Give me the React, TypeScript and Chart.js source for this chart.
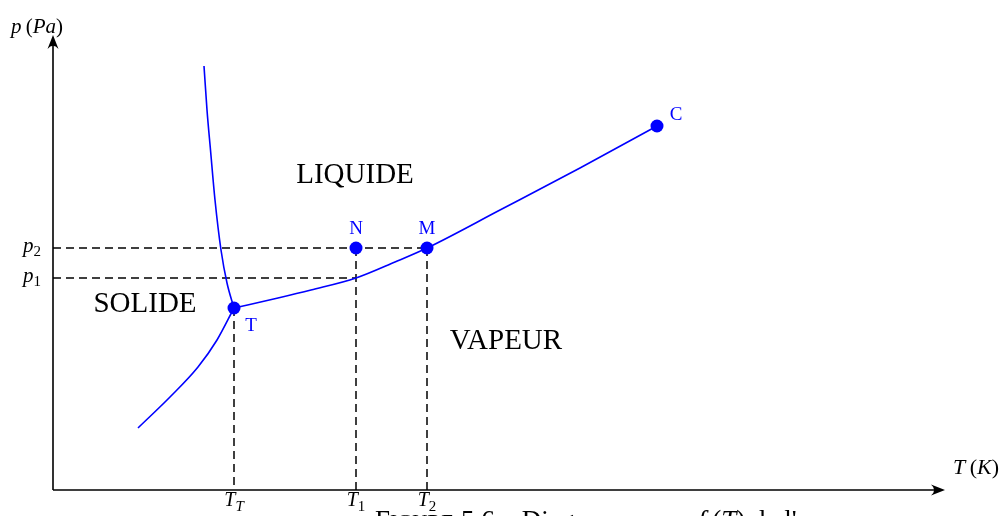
import React, { useEffect, useRef } from "react";
import { Chart, registerables } from "chart.js";

Chart.register(...registerables);

// Courbe de fusion (solide / liquide)
const FUSION_T = [15.1, 15.4, 15.75, 16.2, 16.8, 17.4, 18.1];
const FUSION_P = [42.4, 38.0, 34.0, 29.0, 24.0, 20.7, 18.2];

// Courbe de sublimation (solide / vapeur)
const SUBLIM_T = [8.5, 11.7, 14.5, 16.4, 18.1];
const SUBLIM_P = [6.2, 9.3, 12.3, 15.0, 18.2];

// Courbe de vaporisation (liquide / vapeur), de T à C
const VAPO_T = [18.1, 22.5, 25.8, 30.3, 34.2, 37.4, 44.7, 52.7, 60.4];
const VAPO_P = [18.2, 19.2, 20.0, 21.2, 22.8, 24.2, 28.0, 32.2, 36.4];

// Points remarquables
const POINT_NAMES = ["T", "N", "M", "C"];
const POINT_T = [18.1, 30.3, 37.4, 60.4];
const POINT_P = [18.2, 24.2, 24.2, 36.4];

// Graduations
const T_TICKS = [18.1, 30.3, 37.4];
const T_TICK_SUBS = ["T", "1", "2"];
const P_TICKS = [21.2, 24.2];
const P_TICK_SUBS = ["1", "2"];

const X_MAX = 89.2;
const Y_MAX = 45.5;

const REGIONS = ["LIQUIDE", "SOLIDE", "VAPEUR"];
const REGION_T = [30.2, 9.2, 45.3];
const REGION_P = [31.5, 18.6, 14.9];

const BLUE = "#0000ff";
const SERIF = "'Liberation Serif', 'DejaVu Serif', serif";

const zip = (xs: number[], ys: number[]) => xs.map((x, i) => ({ x, y: ys[i] }));

export default function App() {
  const ref = useRef<HTMLCanvasElement | null>(null);

  useEffect(() => {
    const canvas = ref.current;
    if (!canvas) return;

    const [TT, T1, T2] = T_TICKS;
    const [p1, p2] = P_TICKS;
    const pT = POINT_P[0];

    const dashed = (pts: { x: number; y: number }[]) => ({
      data: pts,
      showLine: true,
      borderColor: "#000",
      borderWidth: 1.5,
      borderDash: [8, 5],
      pointRadius: 0,
      order: 3,
      clip: false as any,
    });
    const curve = (pts: { x: number; y: number }[]) => ({
      data: pts,
      showLine: true,
      borderColor: BLUE,
      borderWidth: 1.6,
      cubicInterpolationMode: "monotone",
      pointRadius: 0,
      order: 2,
      clip: false as any,
    });

    const annot = {
      id: "annot",
      beforeDatasetsDraw(chart: any) {
        const { ctx, chartArea } = chart;
        const { left, right, top, bottom } = chartArea;
        ctx.save();
        ctx.strokeStyle = "#000";
        ctx.fillStyle = "#000";
        ctx.lineWidth = 1.6;
        ctx.beginPath();
        ctx.moveTo(left, bottom);
        ctx.lineTo(right - 6, bottom);
        ctx.moveTo(left, bottom);
        ctx.lineTo(left, top + 6);
        ctx.stroke();
        const arrow = (tx: number, ty: number, dx: number, dy: number) => {
          const L = 14, W = 5.5;
          const px = -dy, py = dx;
          ctx.beginPath();
          ctx.moveTo(tx, ty);
          ctx.lineTo(tx - dx * L + px * W, ty - dy * L + py * W);
          ctx.quadraticCurveTo(tx - dx * L * 0.55, ty - dy * L * 0.55, tx - dx * L - px * W, ty - dy * L - py * W);
          ctx.closePath();
          ctx.fill();
        };
        arrow(right, bottom, 1, 0);
        arrow(left, top, 0, -1);
        ctx.restore();
      },
      afterDatasetsDraw(chart: any) {
        const { ctx, scales } = chart;
        const xs = scales.x, ys = scales.y;
        const { left, right, bottom } = chart.chartArea;
        ctx.save();
        ctx.fillStyle = "#000";
        ctx.textBaseline = "alphabetic";
        ctx.textAlign = "left";

        const it = (s: number) => `italic ${s}px ${SERIF}`;
        const rm = (s: number) => `${s}px ${SERIF}`;
        type Part = [string, string, number?];
        const seq = (x: number, y: number, parts: Part[]) => {
          let cx = x;
          for (const [t, f, dy] of parts) {
            ctx.font = f;
            ctx.fillText(t, cx, y + (dy || 0));
            cx += ctx.measureText(t).width;
          }
        };
        const width = (parts: Part[]) =>
          parts.reduce((w, [t, f]) => {
            ctx.font = f;
            return w + ctx.measureText(t).width;
          }, 0);

        // axis titles
        seq(11, 33, [["p", it(21)], ["\u2009(", rm(21)], ["Pa", it(21)], [")", rm(21)]]);
        seq(right + 8, bottom - 16, [["T", it(22)], ["\u2009(", rm(22)], ["K", it(22)], [")", rm(22)]]);

        // T ticks
        T_TICKS.forEach((v, i) => {
          const px = xs.getPixelForValue(v);
          const parts: Part[] = [
            ["T", it(20)],
            [T_TICK_SUBS[i], T_TICK_SUBS[i] === "T" ? it(15) : rm(15), 5],
          ];
          seq(px - width(parts) / 2, bottom + 16, parts);
        });
        // p ticks
        P_TICKS.forEach((v, i) => {
          const py = ys.getPixelForValue(v);
          const parts: Part[] = [["p", it(21)], [P_TICK_SUBS[i], rm(15), 4]];
          seq(left - 12 - width(parts), py + 4, parts);
        });

        // regions
        ctx.textAlign = "center";
        ctx.textBaseline = "middle";
        ctx.font = rm(29);
        REGIONS.forEach((r, i) => {
          ctx.fillText(r, xs.getPixelForValue(REGION_T[i]), ys.getPixelForValue(REGION_P[i]));
        });

        // point names
        ctx.fillStyle = BLUE;
        ctx.font = rm(19);
        const offs: Record<string, [number, number]> = { T: [17, 18], N: [0, -19], M: [0, -19], C: [19, -11] };
        POINT_NAMES.forEach((n, i) => {
          const [dx, dy] = offs[n];
          ctx.fillText(n, xs.getPixelForValue(POINT_T[i]) + dx, ys.getPixelForValue(POINT_P[i]) + dy);
        });

        // caption (cut by the bottom of the picture)
        ctx.fillStyle = "#000";
        ctx.textAlign = "left";
        ctx.textBaseline = "alphabetic";
        seq(375, 529, [
          ["F", rm(27)],
          ["IGURE", rm(21)],
          [" 5.6 – Diagramme ", rm(27)],
          ["p", it(27)],
          [" = ", rm(27)],
          ["f", it(27)],
          [" (", rm(27)],
          ["T", it(27)],
          [") de l'eau", rm(27)],
        ]);
        ctx.restore();
      },
    };

    const chart = new Chart(canvas, {
      type: "scatter",
      data: {
        datasets: [
          dashed([{ x: 0, y: p2 }, { x: T2, y: p2 }]),
          dashed([{ x: 0, y: p1 }, { x: T1, y: p1 }]),
          dashed([{ x: TT, y: pT }, { x: TT, y: 0 }]),
          dashed([{ x: T1, y: p2 }, { x: T1, y: 0 }]),
          dashed([{ x: T2, y: p2 }, { x: T2, y: 0 }]),
          curve(zip(FUSION_T, FUSION_P)),
          curve(zip(SUBLIM_T, SUBLIM_P)),
          curve(zip(VAPO_T, VAPO_P)),
          {
            data: zip(POINT_T, POINT_P),
            showLine: false,
            pointRadius: 6.5,
            pointBackgroundColor: BLUE,
            pointBorderColor: BLUE,
            pointBorderWidth: 0,
            order: 1,
            clip: false as any,
          },
        ] as any,
      },
      options: {
        animation: false,
        responsive: false,
        devicePixelRatio: 1,
        layout: { padding: { left: 53, right: 60, top: 35, bottom: 26 } },
        plugins: { legend: { display: false }, tooltip: { enabled: false }, title: { display: false } },
        scales: {
          x: { type: "linear", min: 0, max: X_MAX, display: false },
          y: { type: "linear", min: 0, max: Y_MAX, display: false },
        },
        events: [],
      } as any,
      plugins: [annot],
    });
    return () => chart.destroy();
  }, []);

  return (
    <div style={{ position: "fixed", left: 0, top: 0, width: 1005, height: 516, background: "#fff" }}>
      <canvas ref={ref} width={1005} height={516} style={{ display: "block", width: 1005, height: 516 }} />
    </div>
  );
}
